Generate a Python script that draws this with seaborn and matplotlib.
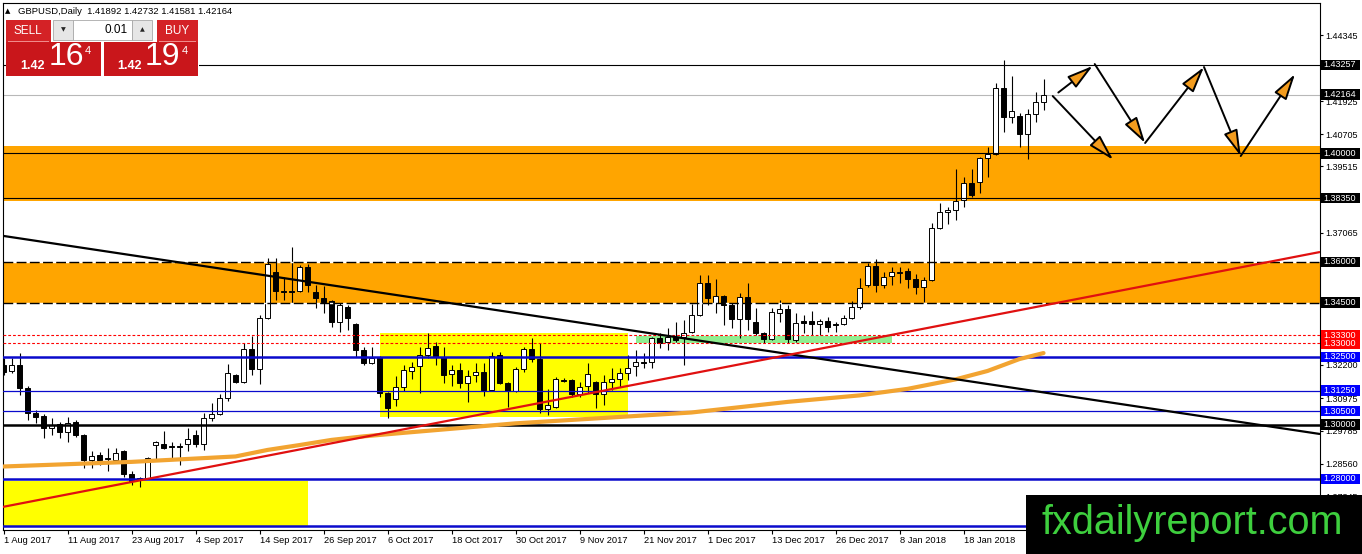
import numpy as np
import pandas as pd
import matplotlib
matplotlib.use("Agg")
import matplotlib.pyplot as plt
import matplotlib.transforms as mtransforms
import matplotlib.ticker as mticker
from matplotlib.patches import Rectangle
import seaborn as sns

W, H = 1362, 554

# Daily GBPUSD bars, bar 0 = 1 Aug 2017 ... bar 130 = 1 Feb 2018
opens = [1.3220, 1.3198, 1.3220, 1.3135, 1.3043, 1.3032, 1.2988, 1.3003, 1.2973, 1.3010,
         1.2962, 1.2870, 1.2888, 1.2877, 1.2870, 1.2903, 1.2818, 1.2796, 1.2804, 1.2925,
         1.2929, 1.2922, 1.2922, 1.2929, 1.2962, 1.2929, 1.3025, 1.3040, 1.3099, 1.3183,
         1.3157, 1.3279, 1.3205, 1.3393, 1.3563, 1.3493, 1.3493, 1.3493, 1.3581, 1.3489,
         1.3467, 1.3456, 1.3379, 1.3434, 1.3371, 1.3275, 1.3227, 1.3250, 1.3117, 1.3095,
         1.3139, 1.3198, 1.3216, 1.3257, 1.3290, 1.3250, 1.3187, 1.3202, 1.3154, 1.3183,
         1.3194, 1.3128, 1.3257, 1.3154, 1.3124, 1.3205, 1.3279, 1.3242, 1.3058, 1.3065,
         1.3165, 1.3165, 1.3113, 1.3143, 1.3157, 1.3113, 1.3157, 1.3169, 1.3191, 1.3216,
         1.3231, 1.3231, 1.3320, 1.3305, 1.3323, 1.3323, 1.3342, 1.3404, 1.3522, 1.3449,
         1.3474, 1.3441, 1.3390, 1.3471, 1.3379, 1.3338, 1.3316, 1.3412, 1.3426, 1.3312,
         1.3382, 1.3382, 1.3371, 1.3382, 1.3371, 1.3371, 1.3393, 1.3434, 1.3515, 1.3585,
         1.3515, 1.3548, 1.3559, 1.3566, 1.3537, 1.3508, 1.3533, 1.3725, 1.3784, 1.3791,
         1.3828, 1.3891, 1.3894, 1.3983, 1.3998, 1.4241, 1.4134, 1.4138, 1.4071, 1.4145,
         1.41892]
highs = [1.3246, 1.3246, 1.3264, 1.3143, 1.3054, 1.3040, 1.3025, 1.3010, 1.3028, 1.3017,
         1.2966, 1.2903, 1.2899, 1.2914, 1.2914, 1.2907, 1.2829, 1.2807, 1.2881, 1.2940,
         1.2977, 1.2936, 1.2933, 1.2988, 1.2981, 1.3043, 1.3080, 1.3113, 1.3224, 1.3187,
         1.3301, 1.3327, 1.3404, 1.3614, 1.3614, 1.3544, 1.3655, 1.3589, 1.3592, 1.3515,
         1.3511, 1.3460, 1.3449, 1.3441, 1.3375, 1.3286, 1.3286, 1.3253, 1.3121, 1.3180,
         1.3220, 1.3231, 1.3286, 1.3338, 1.3305, 1.3286, 1.3220, 1.3227, 1.3202, 1.3227,
         1.3227, 1.3268, 1.3268, 1.3157, 1.3213, 1.3286, 1.3320, 1.3301, 1.3132, 1.3176,
         1.3172, 1.3169, 1.3157, 1.3227, 1.3161, 1.3183, 1.3209, 1.3209, 1.3257, 1.3275,
         1.3264, 1.3323, 1.3338, 1.3356, 1.3379, 1.3386, 1.3445, 1.3552, 1.3552, 1.3537,
         1.3478, 1.3449, 1.3485, 1.3522, 1.3430, 1.3342, 1.3430, 1.3460, 1.3441, 1.3412,
         1.3404, 1.3419, 1.3390, 1.3397, 1.3379, 1.3404, 1.3456, 1.3541, 1.3596, 1.3611,
         1.3563, 1.3581, 1.3581, 1.3578, 1.3555, 1.3544, 1.3743, 1.3817, 1.3802, 1.3942,
         1.3913, 1.3942, 1.3987, 1.4023, 1.4259, 1.4344, 1.4285, 1.4149, 1.4163, 1.4226,
         1.42732]
lows = [1.3183, 1.3191, 1.3110, 1.3017, 1.3006, 1.2951, 1.2962, 1.2951, 1.2936, 1.2955,
        1.2841, 1.2841, 1.2852, 1.2829, 1.2859, 1.2807, 1.2778, 1.2771, 1.2800, 1.2870,
        1.2911, 1.2874, 1.2852, 1.2903, 1.2918, 1.2907, 1.3014, 1.3036, 1.3087, 1.3154,
        1.3154, 1.3183, 1.3150, 1.3390, 1.3460, 1.3460, 1.3449, 1.3489, 1.3489, 1.3430,
        1.3412, 1.3360, 1.3342, 1.3349, 1.3250, 1.3220, 1.3224, 1.3102, 1.3025, 1.3069,
        1.3124, 1.3169, 1.3117, 1.3246, 1.3220, 1.3154, 1.3143, 1.3135, 1.3084, 1.3157,
        1.3106, 1.3124, 1.3150, 1.3065, 1.3121, 1.3194, 1.3231, 1.3043, 1.3036, 1.3062,
        1.3157, 1.3102, 1.3102, 1.3117, 1.3062, 1.3073, 1.3128, 1.3139, 1.3165, 1.3180,
        1.3209, 1.3209, 1.3283, 1.3275, 1.3305, 1.3220, 1.3338, 1.3401, 1.3441, 1.3412,
        1.3367, 1.3356, 1.3320, 1.3349, 1.3331, 1.3301, 1.3312, 1.3379, 1.3301, 1.3305,
        1.3338, 1.3331, 1.3331, 1.3342, 1.3342, 1.3367, 1.3390, 1.3426, 1.3508, 1.3489,
        1.3504, 1.3515, 1.3522, 1.3504, 1.3482, 1.3452, 1.3530, 1.3721, 1.3740, 1.3754,
        1.3802, 1.3839, 1.3854, 1.3913, 1.3994, 1.4079, 1.4112, 1.4023, 1.3979, 1.4116,
        1.41581]
closes = [1.3194, 1.3220, 1.3135, 1.3043, 1.3028, 1.2988, 1.2999, 1.2973, 1.3006, 1.2962,
          1.2870, 1.2885, 1.2870, 1.2874, 1.2896, 1.2818, 1.2793, 1.2804, 1.2877, 1.2936,
          1.2914, 1.2918, 1.2918, 1.2947, 1.2929, 1.3025, 1.3040, 1.3099, 1.3191, 1.3157,
          1.3279, 1.3205, 1.3393, 1.3592, 1.3493, 1.3489, 1.3489, 1.3581, 1.3515, 1.3467,
          1.3452, 1.3379, 1.3441, 1.3393, 1.3275, 1.3227, 1.3246, 1.3117, 1.3062, 1.3139,
          1.3202, 1.3213, 1.3257, 1.3283, 1.3250, 1.3183, 1.3202, 1.3154, 1.3180, 1.3194,
          1.3128, 1.3253, 1.3154, 1.3124, 1.3205, 1.3279, 1.3242, 1.3058, 1.3073, 1.3169,
          1.3161, 1.3113, 1.3139, 1.3187, 1.3113, 1.3157, 1.3169, 1.3191, 1.3209, 1.3231,
          1.3227, 1.3320, 1.3301, 1.3323, 1.3312, 1.3338, 1.3404, 1.3522, 1.3467, 1.3474,
          1.3441, 1.3390, 1.3471, 1.3390, 1.3338, 1.3316, 1.3415, 1.3426, 1.3316, 1.3375,
          1.3375, 1.3371, 1.3382, 1.3360, 1.3367, 1.3393, 1.3434, 1.3504, 1.3585, 1.3515,
          1.3544, 1.3563, 1.3563, 1.3537, 1.3508, 1.3533, 1.3725, 1.3784, 1.3791, 1.3824,
          1.3891, 1.3847, 1.3983, 1.3998, 1.4241, 1.4134, 1.4156, 1.4071, 1.4145, 1.4189,
          1.42164]

date_bars = list(range(0, 121, 8))
date_labels = ["1 Aug 2017", "11 Aug 2017", "23 Aug 2017", "4 Sep 2017", "14 Sep 2017",
               "26 Sep 2017", "6 Oct 2017", "18 Oct 2017", "30 Oct 2017", "9 Nov 2017",
               "21 Nov 2017", "1 Dec 2017", "13 Dec 2017", "26 Dec 2017", "8 Jan 2018",
               "18 Jan 2018"]

# moving average (orange) read at a few bars
ma_bars = [0, 16, 29, 33, 37, 41, 45, 50, 64, 74, 86, 98, 107, 113, 119, 123, 127, 130]
ma_values = [1.2846, 1.2863, 1.2883, 1.2907, 1.2925, 1.2944, 1.2957, 1.2970, 1.3005, 1.3023,
             1.3045, 1.3084, 1.3108, 1.3132, 1.3167, 1.3198, 1.3242, 1.3264]

# trend lines
trend_bars = [-0.1, 164.5]
black_trend = [1.3696, 1.2966]
red_trend = [1.2697, 1.3636]

# horizontal levels
black_levels = [1.43257, 1.40000, 1.38350]
bid_price = 1.42164
dashed_levels = [1.36000, 1.34500]
red_levels = [1.33300, 1.33000]
blue_thick_levels = [1.32500, 1.28000, 1.26250]
blue_thin_levels = [1.31250, 1.30500]
black_thick_levels = [1.30000]

# zones: (bar from, bar to, price low, price high, colour)
zones = [(-0.1, 164.6, 1.3824, 1.4026, "#ffa500"),
         (-0.1, 164.6, 1.3450, 1.3600, "#ffa500"),
         (47, 78, 1.3028, 1.3338, "#ffff00"),
         (-0.1, 38, 1.2625, 1.2793, "#ffff00"),
         (79, 111, 1.3302, 1.3328, "#90ee90")]

# projected path arrows: (bar, price) tail -> tip
arrows = [((131.85, 1.4224), (136.15, 1.4322)),
          ((131.15, 1.4211), (138.7, 1.3976)),
          ((136.4, 1.4329), (142.7, 1.4038)),
          ((142.7, 1.4038), (150.06, 1.4318)),
          ((150.06, 1.4318), (154.65, 1.3990)),
          ((154.65, 1.3990), (161.44, 1.4292))]

# right-hand price tags
tag_prices = [1.28000, 1.30000, 1.30500, 1.31250, 1.32500, 1.33000, 1.33300,
              1.34500, 1.36000, 1.38350, 1.40000, 1.42164, 1.43257]
tag_colors = ["#0000ff", "black", "#0000ff", "#0000ff", "#0000ff", "#ff0000", "#ff0000",
              "black", "black", "black", "black", "black", "black"]
grid_prices = [1.44345, 1.41925, 1.40705, 1.39515, 1.37065,
               1.32200, 1.30975, 1.29785, 1.28560, 1.27345]

df = pd.DataFrame({"open": opens, "high": highs, "low": lows, "close": closes})
df["bar"] = np.arange(len(df))
df["bull"] = df["close"] >= df["open"]
df["body_lo"] = df[["open", "close"]].min(axis=1)
df["body_h"] = (df["close"] - df["open"]).abs().clip(lower=0.00014)

sns.set_theme(style="white")
plt.rcParams["font.family"] = ["Liberation Sans", "DejaVu Sans"]

fig = plt.figure(figsize=(W / 100, H / 100), dpi=100)
ax = fig.add_axes([2.7 / W, 1 - 530 / H, (1320 - 2.7) / W, (530 - 2.7) / H])
ax.set_xlim(-0.1, 164.56)
ax.set_ylim(1.2612, 1.4555)
ax.set_facecolor("white")

for x0, x1, p0, p1, c in zones:
    ax.add_patch(Rectangle((x0, p0), x1 - x0, p1 - p0, facecolor=c, edgecolor="none", zorder=1))

ax.axhline(bid_price, color="#b8b8b8", lw=0.8, zorder=2)

# candles
ax.vlines(df["bar"], df["low"], df["high"], color="black", lw=0.8, zorder=3)
ax.bar(df["bar"], df["body_h"], bottom=df["body_lo"], width=0.62,
       color=np.where(df["bull"], "white", "black"), edgecolor="black", linewidth=0.7, zorder=3.2)

for p in black_levels:
    ax.axhline(p, color="black", lw=0.8, zorder=4)
for p in dashed_levels:
    ax.axhline(p, color="black", lw=1.0, ls=(0, (7, 2.5)), gapcolor="white", zorder=4)
for p in red_levels:
    ax.axhline(p, color="#ff0000", lw=0.8, ls=(0, (2.5, 1.8)), zorder=4)
for p in blue_thick_levels:
    ax.axhline(p, color="#0a0acc", lw=1.8, zorder=4)
for p in blue_thin_levels:
    ax.axhline(p, color="#0a0acc", lw=0.9, zorder=4)
for p in black_thick_levels:
    ax.axhline(p, color="black", lw=1.8, zorder=4)

sns.lineplot(x=ma_bars, y=ma_values, ax=ax, color="#f2a431", lw=3, zorder=4.5, legend=False)
sns.lineplot(x=trend_bars, y=black_trend, ax=ax, color="black", lw=1.6, zorder=5, legend=False)
sns.lineplot(x=trend_bars, y=red_trend, ax=ax, color="#e01010", lw=1.6, zorder=5, legend=False)

for (xt, yt), (xh, yh) in arrows:
    ax.annotate("", xy=(xh, yh), xytext=(xt, yt), zorder=6,
                arrowprops=dict(arrowstyle="-|>,head_length=0.8,head_width=0.22",
                                fc="#f39c1e", ec="black", lw=1.4,
                                shrinkA=0, shrinkB=0, mutation_scale=20))

# axes frame and ticks in terminal style
for s in ax.spines.values():
    s.set_color("black")
    s.set_linewidth(0.8)
ax.yaxis.tick_right()
ax.set_yticks(grid_prices)
ax.yaxis.set_major_formatter(mticker.FormatStrFormatter("%.5f"))
ax.tick_params(axis="y", direction="out", length=2.2, width=0.8, pad=1.4,
               labelsize=6.5, colors="black", right=True, left=False)
ax.set_xticks(date_bars)
ax.set_xticklabels(date_labels, ha="left")
ax.tick_params(axis="x", direction="out", length=3, width=0.8, pad=1.5,
               labelsize=6.7, colors="black", bottom=True)
ax.set_xlabel("")
ax.set_ylabel("")

# price tags
px_price = (1.4555 - 1.2612) / (530 - 2.7)
tag_tr = mtransforms.blended_transform_factory(ax.transAxes, ax.transData)
tag_w = 39 / (1320 - 2.7)
for p, c in zip(tag_prices, tag_colors):
    ax.add_patch(Rectangle((1.0005, p - 5.3 * px_price), tag_w, 10.6 * px_price,
                           transform=tag_tr, facecolor=c, edgecolor="none",
                           clip_on=False, zorder=10))
    ax.text(1.0025, p, f"{p:.5f}", transform=tag_tr, fontsize=6.5, color="white",
            ha="left", va="center", clip_on=False, zorder=11)


def fig_rect(x0, y0, x1, y1, **kw):
    fig.add_artist(Rectangle((x0 / W, 1 - y1 / H), (x1 - x0) / W, (y1 - y0) / H,
                             transform=fig.transFigure, **kw))


def fig_text(x, y, s, **kw):
    fig.text(x / W, 1 - y / H, s, **kw)


# header
fig_text(5, 11, "\u25b2", fontsize=5, color="black", va="center", family=["DejaVu Sans"])
fig_text(18, 11, "GBPUSD,Daily  1.41892 1.42732 1.41581 1.42164", fontsize=6.8,
         color="black", va="center")

# one-click trading panel
red = "#c9161b"
fig_rect(6, 18, 199, 78, facecolor="white", edgecolor="none")
fig_rect(6, 20, 51, 42, facecolor="#d42226", edgecolor="none")
fig_rect(157, 20, 198, 42, facecolor="#d42226", edgecolor="none")
fig_rect(6, 42, 101, 76, facecolor=red, edgecolor="none")
fig_rect(104, 42, 198, 76, facecolor=red, edgecolor="none")
fig_rect(8, 41, 49, 42, facecolor="#f08a8a", edgecolor="none")
fig_rect(159, 41, 196, 42, facecolor="#f08a8a", edgecolor="none")
fig_rect(53, 20, 73, 40, facecolor="#e6e6e6", edgecolor="#a8a8a8", lw=0.6)
fig_rect(73, 20, 132, 40, facecolor="white", edgecolor="#a8a8a8", lw=0.6)
fig_rect(132, 20, 152, 40, facecolor="#e6e6e6", edgecolor="#a8a8a8", lw=0.6)
fig_text(63, 30, "\u25bc", fontsize=4.5, ha="center", va="center", family=["DejaVu Sans"])
fig_text(142, 30, "\u25b2", fontsize=4.5, ha="center", va="center", family=["DejaVu Sans"])
fig_text(128, 30, "0.01", fontsize=8.5, ha="right", va="center", color="black")
fig_text(28, 31, "SELL", fontsize=8.5, ha="center", va="center", color="white")
fig_text(177, 31, "BUY", fontsize=8.5, ha="center", va="center", color="white")
for x_small, x_big, x_sup, big in [(32.5, 66, 88, "16"), (130, 162.5, 185, "19")]:
    fig_text(x_small, 66, "1.42", fontsize=9, fontweight="bold", ha="center", va="center",
             color="white")
    fig_text(x_big, 57, big, fontsize=23, ha="center", va="center", color="white")
    fig_text(x_sup, 51, "4", fontsize=8, ha="center", va="center", color="white")

# watermark
fig_rect(1026, 495, 1362, 554, facecolor="black", edgecolor="none")
fig_text(1041, 534, "fxdailyreport.com", fontsize=28.5, color="#3ecf3e",
         ha="left", va="baseline")

fig.savefig("out.png", dpi=100)
